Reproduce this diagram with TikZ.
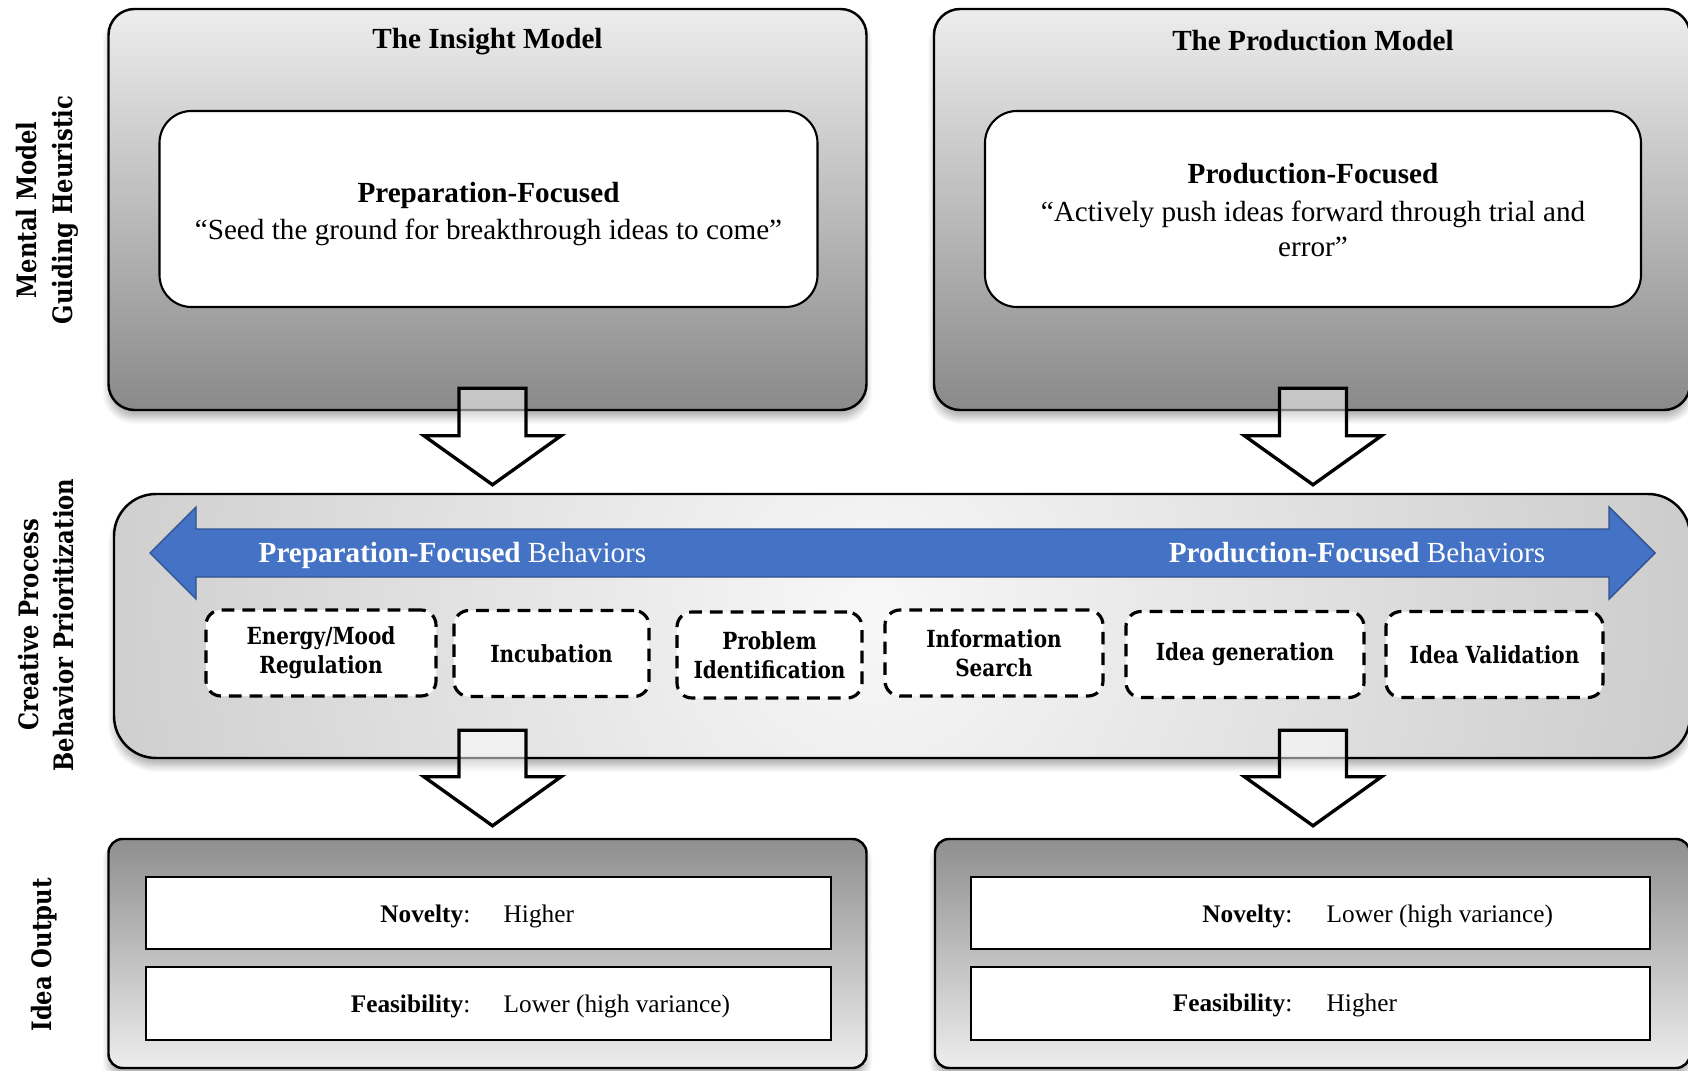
\documentclass[tikz,border=0pt]{standalone}
\usepackage{fontspec}
\setmainfont{Liberation Serif}
\newfontfamily\slabfont[FakeStretch=0.85]{DejaVu Serif}
\usetikzlibrary{positioning,calc,shadows.blur}
\definecolor{behavblue}{HTML}{4472C4}
\definecolor{behavline}{HTML}{2F528F}

\begin{document}
\begin{tikzpicture}[
      modelbox/.style={draw, line width=0.7pt, rounded corners=0.26cm, minimum width=7.58cm, minimum height=4.01cm, top color=black!7, bottom color=black!46, blur shadow={shadow xshift=0mm, shadow yshift=-0.8mm, shadow blur steps=8, shadow opacity=30}},
      outbox/.style={modelbox, rounded corners=0.14cm, minimum height=2.29cm, top color=black!44, bottom color=black!7},
      procbox/.style={draw, line width=0.7pt, rounded corners=0.42cm, minimum width=15.76cm, minimum height=2.64cm, fill=black!34, blur shadow={shadow xshift=0mm, shadow yshift=-0.8mm, shadow blur steps=8, shadow opacity=30},
        path picture={\shade[inner color=black!3, outer color=black!36] ($(path picture bounding box.center)+(-0.3,0.15)$) circle (16);}},
      corebox/.style={draw, line width=0.6pt, fill=white, rounded corners=0.32cm, minimum width=6.58cm, minimum height=1.96cm},
      coretext/.style={align=center, font=\fontsize{8.3}{10}\selectfont},
      modeltitle/.style={font=\bfseries\fontsize{8.3}{10}\selectfont},
      behavtext/.style={text=white, font=\fontsize{8.3}{10}\selectfont},
      behaviour/.style={draw, dash pattern=on 3.6pt off 2.3pt, line width=0.9pt, fill=white, rounded corners=0.15cm, minimum height=0.86cm, align=center, inner sep=1pt, font=\slabfont\bfseries\fontsize{6.7}{8.3}\selectfont},
      ratingbox/.style={draw, line width=0.8pt, fill=white, minimum height=0.72cm},
      ratingtext/.style={inner sep=0pt, font=\fontsize{7.2}{8.6}\selectfont},
      sidelabel/.style={rotate=90, align=center, font=\slabfont\bfseries\fontsize{7.6}{10.2}\selectfont},
      hollowarrow/.style={draw, line width=0.95pt, fill=white, fill opacity=0.5, draw opacity=1,
        to path={($(\tikztostart)+(-0.335,0)$) -- ($(\tikztotarget)+(-0.335,0.49)$) -- ($(\tikztotarget)+(-0.685,0.49)$) -- (\tikztotarget) -- ($(\tikztotarget)+(0.685,0.49)$) -- ($(\tikztotarget)+(0.335,0.49)$) -- ($(\tikztostart)+(0.335,0)$) -- cycle}}
    ]
    \useasboundingbox (0,0) rectangle (16.88,10.70);

    \node[modelbox] (insight) at (4.875,8.605) {};
    \node[modelbox, minimum width=7.56cm] (production) at (13.12,8.605) {};
    \node[modeltitle] (insighttitle) at (4.875,10.28) {The Insight Model};
    \node[modeltitle] (productiontitle) at (13.13,10.29) {The Production Model};
    \node[corebox] (insightcore) at (4.885,8.61) {};
    \node[coretext] (insightcoretext) at (4.885,8.56) {\textbf{Preparation-Focused}\\[0.6pt]“Seed the ground for breakthrough ideas to come”};
    \node[corebox, minimum width=6.56cm] (productioncore) at (13.13,8.61) {};
    \node[coretext] (productioncoretext) at (13.13,8.60) {\textbf{Production-Focused}\\[0.6pt]“Actively push ideas forward through trial and\\error”};

    \node[procbox] (process) at (9.02,4.44) {};
    \draw[fill=behavblue, draw=behavline, line width=0.4pt] (1.50,5.17) -- (1.96,5.63) -- (1.96,5.41) -- (16.09,5.41) -- (16.09,5.63) -- (16.55,5.17) -- (16.09,4.71) -- (16.09,4.93) -- (1.96,4.93) -- (1.96,4.71) -- cycle;
    \node[behavtext] (prepbeh) at (4.525,5.15) {\textbf{Preparation-Focused} Behaviors};
    \node[behavtext] (prodbeh) at (13.57,5.17) {\textbf{Production-Focused} Behaviors};

    \node[behaviour, minimum width=2.30cm] (energy) at (3.21,4.17) {Energy/Mood\\Regulation};
    \node[behaviour, minimum width=1.95cm] (incubation) at (5.515,4.165) {Incubation};
    \node[behaviour, minimum width=1.85cm] (problem) at (7.695,4.15) {Problem\\Identification};
    \node[behaviour, minimum width=2.18cm] (infosearch) at (9.94,4.17) {Information\\Search};
    \node[behaviour, minimum width=2.38cm] (ideagen) at (12.45,4.155) {Idea generation};
    \node[behaviour, minimum width=2.17cm] (ideaval) at (14.945,4.155) {Idea Validation};

    \node[outbox] (insightout) at (4.875,1.165) {};
    \node[outbox, minimum width=7.55cm] (productionout) at (13.125,1.165) {};
    \node[ratingbox, minimum width=6.85cm] (novinsight) at (4.885,1.57) {};
    \node[ratingbox, minimum width=6.85cm, minimum height=0.73cm] (feasinsight) at (4.885,0.665) {};
    \node[ratingbox, minimum width=6.79cm] (novprod) at (13.105,1.57) {};
    \node[ratingbox, minimum width=6.79cm, minimum height=0.73cm] (feasprod) at (13.105,0.665) {};
    \node[ratingtext, anchor=base east] (novinsightkey) at (4.71,1.48) {\textbf{Novelty}:};
    \node[ratingtext, anchor=base west] (novinsightval) at (5.03,1.48) {Higher};
    \node[ratingtext, anchor=base east] (feasinsightkey) at (4.71,0.58) {\textbf{Feasibility}:};
    \node[ratingtext, anchor=base west] (feasinsightval) at (5.03,0.58) {Lower (high variance)};
    \node[ratingtext, anchor=base east] (novprodkey) at (12.93,1.48) {\textbf{Novelty}:};
    \node[ratingtext, anchor=base west] (novprodval) at (13.26,1.48) {Lower (high variance)};
    \node[ratingtext, anchor=base east] (feasprodkey) at (12.93,0.59) {\textbf{Feasibility}:};
    \node[ratingtext, anchor=base west] (feasprodval) at (13.26,0.59) {Higher};

    \coordinate (stemA) at ($(insight.south)+(0.05,0.23)$);
    \coordinate (tipA) at ($(stemA |- process.north)+(0,0.08)$);
    \coordinate (stemB) at ($(production.south)+(0.01,0.23)$);
    \coordinate (tipB) at ($(stemB |- process.north)+(0,0.08)$);
    \coordinate (stemC) at ($(insightout.north |- process.south)+(0.05,0.29)$);
    \coordinate (tipC) at ($(stemC |- insightout.north)+(0,0.12)$);
    \coordinate (stemD) at ($(productionout.north |- process.south)+(0.005,0.29)$);
    \coordinate (tipD) at ($(stemD |- productionout.north)+(0,0.12)$);
    \draw[hollowarrow] (stemA) to (tipA);
    \draw[hollowarrow] (stemB) to (tipB);
    \draw[hollowarrow] (stemC) to (tipC);
    \draw[hollowarrow] (stemD) to (tipD);

    \node[sidelabel] (sideheuristic) at (0.47,8.60) {Mental Model\\Guiding Heuristic};
    \node[sidelabel] (sideprocess) at (0.46,4.45) {Creative Process\\Behavior Prioritization};
    \node[sidelabel] (sideoutput) at (0.44,1.15) {Idea Output};
  \end{tikzpicture}
\end{document}
